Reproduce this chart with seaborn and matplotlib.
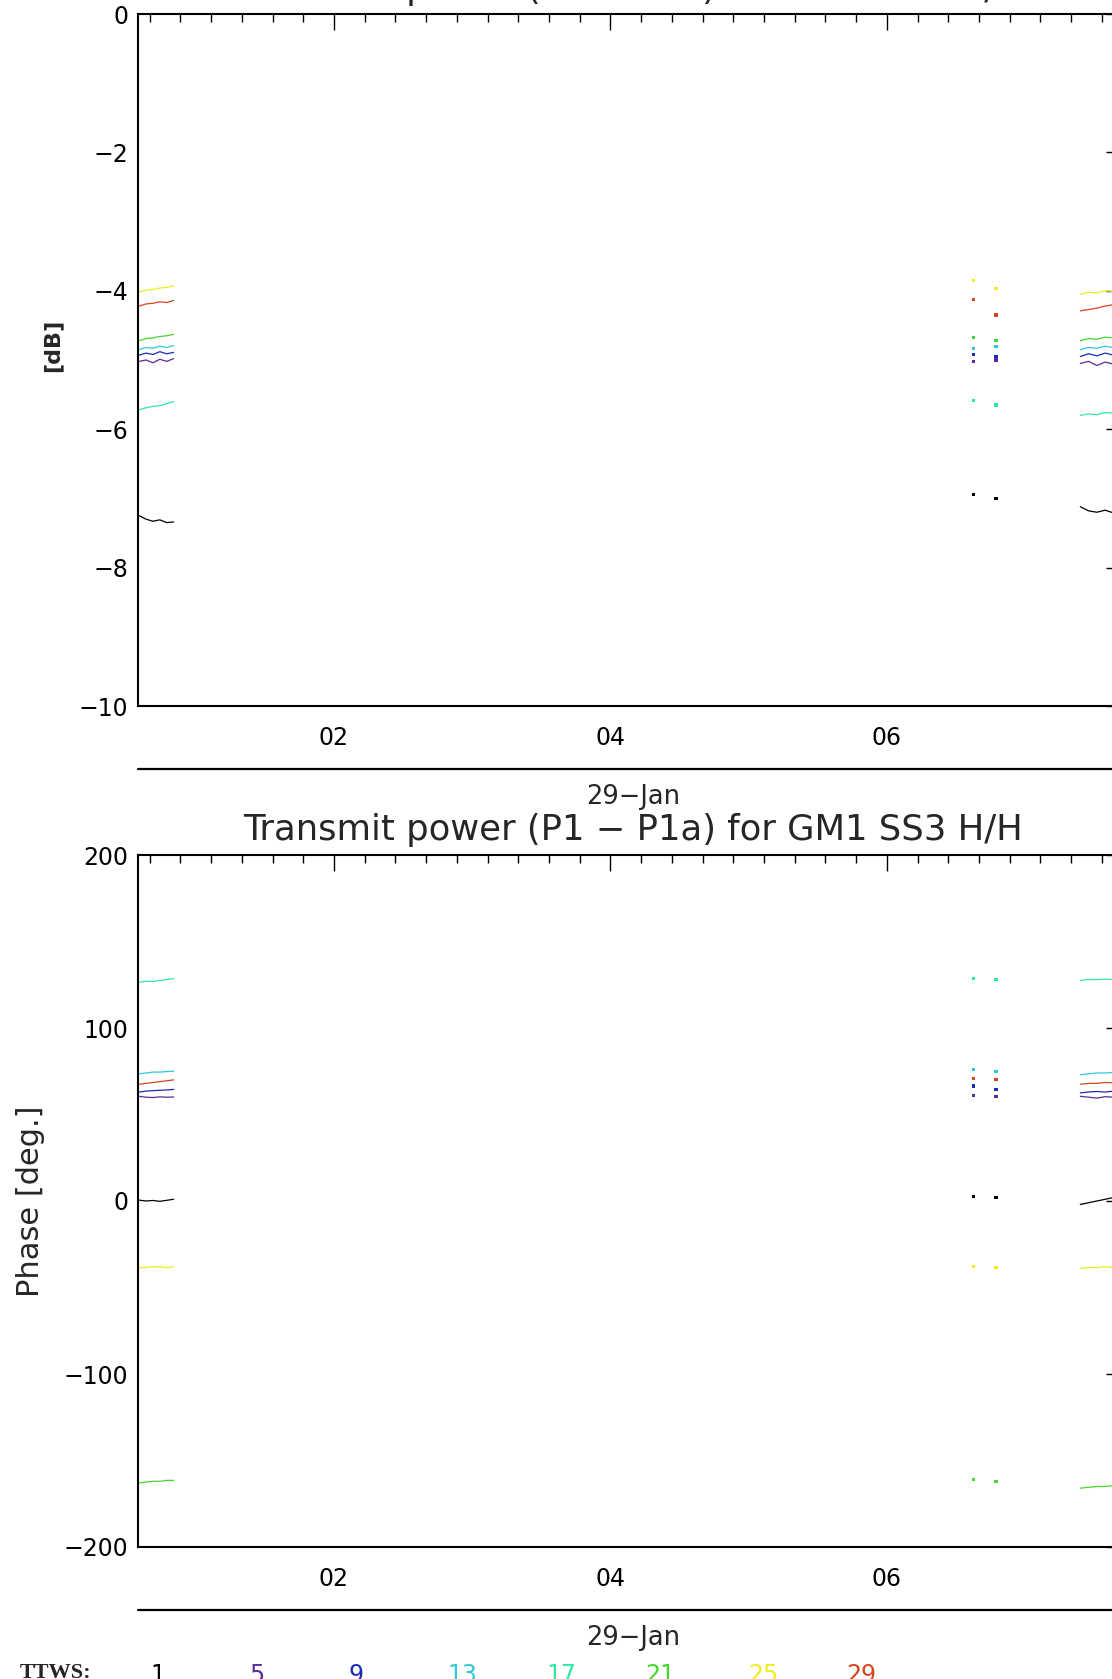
import pandas as pd
import seaborn as sns
import matplotlib.pyplot as plt
from matplotlib.ticker import MultipleLocator, FuncFormatter
from matplotlib.lines import Line2D

# channel labels and colours (IDL rainbow table)
channels = ['1', '5', '9', '13', '17', '21', '25', '29']
chan_colors = ['#000000', '#5b2a9e', '#1a2cb4', '#2ec8d8', '#2ee8a0', '#44d82a', '#eeee20', '#d4461c']

# time of day in hours on 29-Jan: first pass, two sparse samples, second pass
t_left = [0.59, 0.64, 0.69, 0.74, 0.79, 0.84]
t_dots = [6.63, 6.79]
t_right = [7.40, 7.46, 7.52, 7.58, 7.64, 7.70]

# transmit power [dB] per channel (left pass, dots, right pass)
power_ch1 = [-7.25, -7.30, -7.33, -7.31, -7.35, -7.34, -6.95, -7.00, -7.12, -7.18, -7.20, -7.17, -7.21, -7.19]
power_ch5 = [-5.02, -5.00, -5.04, -4.99, -5.02, -4.98, -5.02, -5.00, -5.05, -5.02, -5.08, -5.03, -5.06, -5.04]
power_ch9 = [-4.93, -4.90, -4.92, -4.88, -4.91, -4.89, -4.92, -4.95, -4.95, -4.91, -4.94, -4.90, -4.93, -4.92]
power_ch13 = [-4.85, -4.82, -4.83, -4.80, -4.82, -4.79, -4.83, -4.80, -4.85, -4.82, -4.83, -4.80, -4.82, -4.81]
power_ch17 = [-5.72, -5.69, -5.67, -5.66, -5.63, -5.60, -5.58, -5.65, -5.80, -5.78, -5.79, -5.76, -5.77, -5.75]
power_ch21 = [-4.72, -4.69, -4.68, -4.66, -4.65, -4.63, -4.68, -4.72, -4.72, -4.69, -4.70, -4.67, -4.68, -4.66]
power_ch25 = [-4.02, -3.99, -3.98, -3.96, -3.95, -3.93, -3.85, -3.97, -4.05, -4.02, -4.03, -4.00, -4.01, -3.99]
power_ch29 = [-4.22, -4.19, -4.18, -4.16, -4.17, -4.14, -4.13, -4.35, -4.29, -4.27, -4.25, -4.22, -4.20, -4.19]

# phase [deg.] per channel
phase_ch1 = [0.5, 0.0, 0.3, -0.2, 0.4, 1.0, 2.5, 2.0, -2.0, -1.0, 0.0, 1.0, 2.0, 1.5]
phase_ch5 = [60.5, 60.0, 59.8, 60.2, 60.0, 60.1, 61.0, 60.5, 60.5, 60.0, 59.5, 60.3, 60.0, 60.2]
phase_ch9 = [63.0, 63.5, 63.8, 64.0, 64.2, 64.5, 66.5, 64.5, 62.5, 63.0, 63.3, 63.0, 63.5, 63.2]
phase_ch13 = [73.5, 74.0, 74.5, 74.5, 74.8, 75.0, 76.0, 75.0, 73.0, 73.5, 74.0, 74.0, 74.2, 74.0]
phase_ch17 = [126.5, 127.0, 127.0, 127.5, 128.0, 128.5, 128.5, 128.0, 127.5, 128.0, 128.0, 128.2, 128.0, 128.3]
phase_ch21 = [-163.0, -162.5, -162.0, -162.0, -161.5, -161.5, -161.0, -162.0, -166.0, -165.5, -165.0, -165.0, -164.5, -164.5]
phase_ch25 = [-38.5, -38.5, -38.0, -38.0, -38.5, -38.0, -38.0, -38.5, -39.0, -38.5, -38.5, -38.0, -38.5, -38.0]
phase_ch29 = [67.5, 68.0, 68.5, 69.0, 69.5, 70.0, 71.0, 70.0, 67.5, 68.0, 68.0, 68.5, 68.3, 68.5]

title = 'Transmit power (P1 \u2212 P1a) for GM1 SS3 H/H'
date_label = '29\u2212Jan'
legend_title = 'TTWS:'


def long_frame(series):
    times = t_left + t_dots + t_right
    segs = ['a'] * len(t_left) + ['dot'] * len(t_dots) + ['b'] * len(t_right)
    rows = []
    for ch, vals in zip(channels, series):
        for t, v, s in zip(times, vals, segs):
            rows.append({'time': t, 'value': v, 'chan': ch, 'seg': s})
    return pd.DataFrame(rows)


power = long_frame([power_ch1, power_ch5, power_ch9, power_ch13,
                    power_ch17, power_ch21, power_ch25, power_ch29])
phase = long_frame([phase_ch1, phase_ch5, phase_ch9, phase_ch13,
                    phase_ch17, phase_ch21, phase_ch25, phase_ch29])

sns.set_style('white')
plt.rcParams['font.family'] = ['DejaVu Sans']
pal = dict(zip(channels, chan_colors))

W, H = 1112, 1679
AX_L, AX_W = 138, 990
fig = plt.figure(figsize=(W / 100, H / 100), dpi=100)
ax1 = fig.add_axes([AX_L / W, 1 - 706 / H, AX_W / W, 692 / H])
ax2 = fig.add_axes([AX_L / W, 1 - 1547 / H, AX_W / W, 692 / H])


def draw(ax, df, ylim, major, minor, ylabel, ylab_right, ylab_dy, ylab_size, ylab_bold):
    hpx = ax.get_position().height * H
    lines = df[df['seg'] != 'dot']
    dots = df[df['seg'] == 'dot']
    sns.lineplot(data=lines, x='time', y='value', hue='chan', units='seg', estimator=None,
                 palette=pal, hue_order=channels, lw=0.9, legend=False, ax=ax)
    sns.scatterplot(data=dots, x='time', y='value', hue='chan', palette=pal, hue_order=channels,
                    s=5, marker='s', linewidth=0, legend=False, ax=ax)
    ax.set_xlim(0.582, 7.745)
    ax.set_ylim(*ylim)
    ax.xaxis.set_major_locator(MultipleLocator(2))
    ax.xaxis.set_minor_locator(MultipleLocator(2 / 9))
    ax.xaxis.set_major_formatter(FuncFormatter(lambda v, p: f'{int(round(v)):02d}'))
    ax.yaxis.set_major_locator(MultipleLocator(major))
    ax.yaxis.set_minor_locator(MultipleLocator(minor))
    ax.yaxis.set_major_formatter(FuncFormatter(lambda v, p: f'{v:g}'.replace('-', '\u2212')))
    ax.tick_params(axis='both', which='both', direction='in', top=True, right=True,
                   labelsize=17, width=1.0, colors='black')
    ax.tick_params(axis='x', which='major', length=11.5, pad=14.5)
    ax.tick_params(axis='x', which='minor', length=5.8)
    ax.tick_params(axis='y', which='major', length=15.8, pad=7)
    ax.tick_params(axis='y', which='minor', length=8.6)
    for sp in ax.spines.values():
        sp.set_visible(True)
        sp.set_linewidth(1.5)
        sp.set_color('black')
    ax.set_xlabel('')
    ax.set_ylabel(ylabel, fontsize=ylab_size, fontweight='bold' if ylab_bold else 'normal')
    ax.yaxis.set_label_coords((ylab_right - AX_L) / AX_W, 0.5 + ylab_dy / hpx)
    # second level of the date axis
    ax.add_line(Line2D([0, 1.2], [-63 / hpx, -63 / hpx], transform=ax.transAxes,
                       color='black', lw=1.6, clip_on=False))
    ax.text(0.5, -91 / hpx, date_label, transform=ax.transAxes, ha='center', va='center', fontsize=18.5)
    ax.text(0.5, 1 + 15 / hpx, title, transform=ax.transAxes, ha='center', va='baseline', fontsize=25.5)


draw(ax1, power, (-10, 0), 2, 0.5, '[dB]', 62, 15, 16, True)
draw(ax2, phase, (-200, 200), 100, 10, 'Phase [deg.]', 45, 0, 22, False)

# channel colour key along the bottom edge
fig.text(20 / W, 1 - 1663 / H, legend_title, ha='left', va='top', fontsize=16,
         fontweight='bold', family='Liberation Serif')
key_x = [158, 257, 356, 462, 561, 660, 763, 861]
for x, ch, c in zip(key_x, channels, chan_colors):
    fig.text(x / W, 1 - 1663 / H, ch, ha='center', va='top', fontsize=17, color=c)

fig.savefig('out.png', dpi=100, facecolor='white')
